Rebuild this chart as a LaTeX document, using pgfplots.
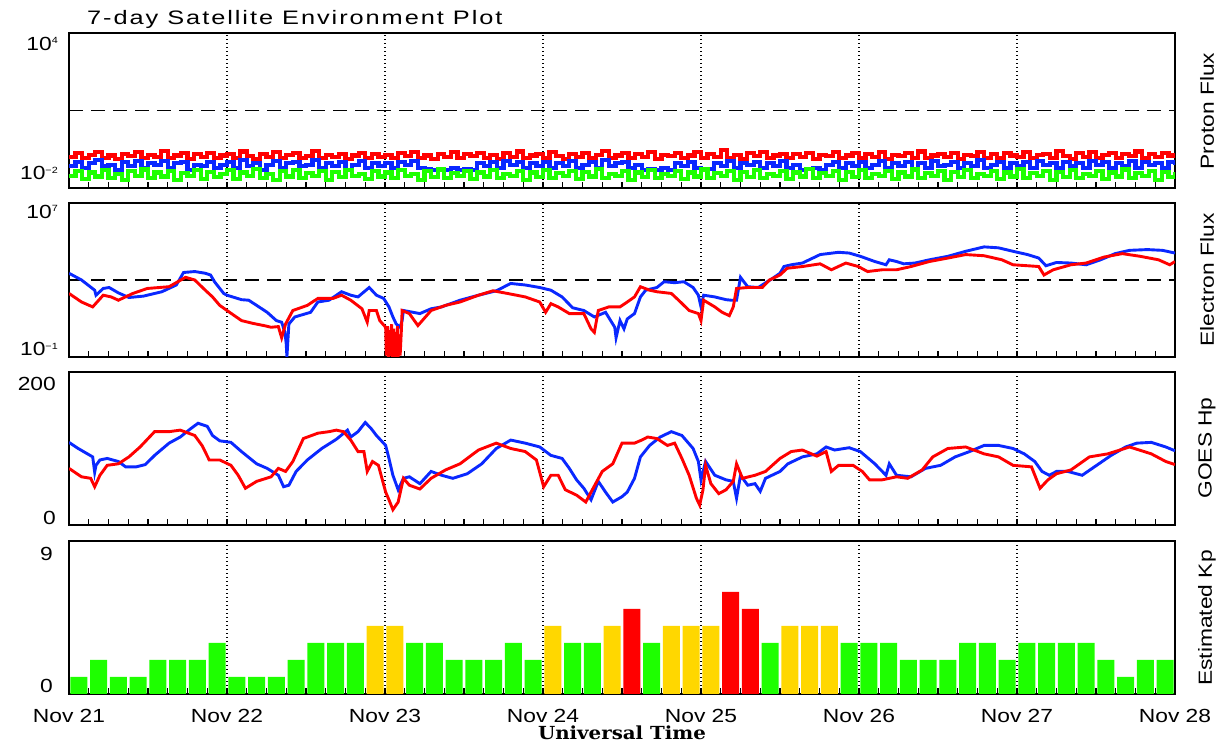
\documentclass[border=0pt]{standalone}
\usepackage{pgfplots}
\pgfplotsset{compat=1.18}
\usepackage{pgfplotstable}
\usepackage{fontspec}
\setmainfont{Liberation Sans}
\newfontfamily\labfont[FakeStretch=1.2]{Liberation Sans}
\newfontfamily\titfont[FakeStretch=1.3,LetterSpace=10]{Liberation Sans}
\newfontfamily\utfont[FakeStretch=1.1]{DejaVu Serif}
\definecolor{pred}{RGB}{255,0,0}
\definecolor{pblue}{RGB}{10,40,255}
\definecolor{pgreen}{RGB}{30,255,0}
\definecolor{kpyellow}{RGB}{255,215,0}
\newcommand{\lab}{\labfont\fontsize{19}{19}\selectfont}
\newcommand{\sups}[1]{\raisebox{6.5pt}{\fontsize{9}{9}\selectfont #1}}

\pgfplotstableread{
h r b g
0 0.16 0.07 0.03
1 0.22 0.10 0.045
2 0.14 0.06 0.022
3 0.19 0.09 0.04
4 0.25 0.12 0.028
5 0.15 0.07 0.05
6 0.18 0.08 0.025
7 0.13 0.05 0.035
8 0.21 0.10 0.02
9 0.17 0.07 0.045
10 0.24 0.11 0.03
11 0.14 0.06 0.052
12 0.19 0.09 0.024
13 0.16 0.08 0.04
14 0.27 0.11 0.028
15 0.15 0.06 0.046
16 0.18 0.09 0.021
17 0.22 0.10 0.038
18 0.13 0.05 0.03
19 0.20 0.08 0.05
20 0.16 0.07 0.023
21 0.23 0.10 0.042
22 0.14 0.06 0.027
23 0.18 0.08 0.035
24 0.21 0.10 0.048
25 0.15 0.06 0.022
26 0.26 0.12 0.04
27 0.17 0.07 0.03
28 0.13 0.09 0.055
29 0.20 0.05 0.025
30 0.16 0.08 0.036
31 0.24 0.11 0.02
32 0.14 0.06 0.044
33 0.19 0.09 0.028
34 0.22 0.10 0.05
35 0.15 0.07 0.024
36 0.17 0.08 0.038
37 0.28 0.12 0.03
38 0.14 0.06 0.046
39 0.19 0.09 0.021
40 0.16 0.07 0.042
41 0.21 0.10 0.026
42 0.13 0.05 0.05
43 0.18 0.08 0.03
44 0.23 0.11 0.035
45 0.15 0.06 0.022
46 0.20 0.09 0.045
47 0.16 0.07 0.028
48 0.19 0.09 0.04
49 0.14 0.06 0.024
50 0.22 0.10 0.05
51 0.17 0.08 0.03
52 0.25 0.11 0.036
53 0.15 0.06 0.021
54 0.18 0.055 0.045
55 0.13 0.05 0.027
56 0.21 0.055 0.052
57 0.16 0.05 0.025
58 0.24 0.06 0.038
59 0.14 0.05 0.03
60 0.20 0.055 0.046
61 0.17 0.05 0.022
62 0.23 0.09 0.04
63 0.15 0.07 0.028
64 0.19 0.10 0.05
65 0.13 0.06 0.024
66 0.22 0.11 0.036
67 0.16 0.08 0.03
68 0.26 0.10 0.044
69 0.14 0.06 0.021
70 0.18 0.09 0.04
71 0.21 0.07 0.027
72 0.15 0.10 0.05
73 0.24 0.06 0.025
74 0.17 0.09 0.038
75 0.13 0.07 0.03
76 0.20 0.11 0.047
77 0.16 0.06 0.022
78 0.22 0.08 0.042
79 0.14 0.10 0.028
80 0.19 0.06 0.055
81 0.27 0.12 0.024
82 0.15 0.07 0.036
83 0.18 0.09 0.03
84 0.23 0.10 0.045
85 0.14 0.06 0.021
86 0.20 0.08 0.04
87 0.16 0.05 0.027
88 0.25 0.055 0.05
89 0.13 0.05 0.025
90 0.19 0.06 0.035
91 0.17 0.05 0.03
92 0.22 0.09 0.046
93 0.15 0.07 0.022
94 0.18 0.10 0.04
95 0.24 0.06 0.028
96 0.14 0.05 0.052
97 0.20 0.055 0.024
98 0.16 0.09 0.038
99 0.29 0.07 0.03
100 0.15 0.11 0.045
101 0.19 0.06 0.021
102 0.13 0.09 0.042
103 0.22 0.08 0.027
104 0.17 0.10 0.05
105 0.24 0.06 0.025
106 0.15 0.09 0.036
107 0.18 0.07 0.03
108 0.21 0.11 0.047
109 0.14 0.06 0.022
110 0.20 0.08 0.04
111 0.16 0.05 0.028
112 0.23 0.055 0.054
113 0.13 0.06 0.024
114 0.19 0.05 0.038
115 0.17 0.08 0.03
116 0.25 0.10 0.045
117 0.15 0.06 0.021
118 0.18 0.09 0.042
119 0.22 0.07 0.027
120 0.14 0.10 0.05
121 0.20 0.06 0.025
122 0.16 0.08 0.036
123 0.24 0.11 0.03
124 0.13 0.06 0.046
125 0.19 0.09 0.022
126 0.17 0.07 0.04
127 0.22 0.10 0.028
128 0.15 0.05 0.052
129 0.26 0.09 0.024
130 0.14 0.06 0.038
131 0.18 0.11 0.03
132 0.21 0.07 0.045
133 0.16 0.08 0.021
134 0.23 0.10 0.042
135 0.13 0.06 0.027
136 0.19 0.09 0.05
137 0.17 0.07 0.025
138 0.24 0.12 0.035
139 0.15 0.06 0.03
140 0.20 0.08 0.047
141 0.14 0.10 0.022
142 0.22 0.06 0.04
143 0.18 0.09 0.028
144 0.16 0.07 0.053
145 0.25 0.10 0.024
146 0.14 0.06 0.038
147 0.19 0.11 0.03
148 0.21 0.08 0.045
149 0.15 0.09 0.021
150 0.27 0.06 0.042
151 0.17 0.10 0.027
152 0.13 0.07 0.05
153 0.22 0.09 0.025
154 0.16 0.06 0.036
155 0.24 0.11 0.03
156 0.15 0.08 0.046
157 0.19 0.10 0.022
158 0.23 0.06 0.04
159 0.14 0.09 0.028
160 0.20 0.07 0.052
161 0.17 0.11 0.024
162 0.26 0.06 0.038
163 0.15 0.10 0.03
164 0.21 0.08 0.045
165 0.16 0.09 0.021
166 0.23 0.06 0.042
167 0.18 0.10 0.027
168 0.20 0.08 0.04
}\proton

\pgfplotsset{
  panel/.style={
    scale only axis, width=1106pt, xmin=0, xmax=168,
    axis line style={line width=1.6pt, black},
    tick align=inside,
    xtick={0,3,...,168}, xticklabels={},
    xtick pos=left,
    ytick=\empty, yticklabels={},
    yminorticks=true,
    major tick length=6pt, minor tick length=12pt,
    every tick/.style={line width=1.3pt, black},
    anchor=south west,
  },
}
\tikzset{
  dayline/.style={black, line width=1.4pt, dash pattern=on 1.4pt off 2.6pt},
  thresh/.style={black, line width=1.5pt, dash pattern=on 14pt off 8pt},
}

\begin{document}
\begin{tikzpicture}
\useasboundingbox (0pt,0pt) rectangle (1221pt,743pt);

% ---------- Proton flux ----------
\begin{axis}[panel, at={(69pt,555pt)}, height=155pt,
  ymode=log, ymin=1e-2, ymax=1e4,
  minor ytick={1e-1,1,10,100,1000}]
  \pgfplotsinvokeforeach{1,...,6}{\draw[dayline] (rel axis cs:#1/7,0) -- (rel axis cs:#1/7,1);}
  \addplot[thresh] coordinates {(0,10) (168,10)};
  \addplot[const plot, pred, line width=4.2pt] table[x=h,y=r] {\proton};
  \addplot[const plot, pblue, line width=4.2pt] table[x=h,y=b] {\proton};
  \addplot[const plot, pgreen, line width=4.2pt] table[x=h,y=g] {\proton};
\end{axis}

% ---------- Electron flux ----------
\begin{axis}[panel, at={(69pt,386pt)}, height=154pt,
  ymode=log, ymin=1e-1, ymax=1e7,
  minor ytick={1,10,100,1000,1e4,1e5,1e6}]
  \pgfplotsinvokeforeach{1,...,6}{\draw[dayline] (rel axis cs:#1/7,0) -- (rel axis cs:#1/7,1);}
  \addplot[thresh] coordinates {(0,1000) (168,1000)};
  \addplot[pblue, line width=2.9pt] coordinates {
(0,2240)(1.9,1000)(3.9,295)(4.1,162)(5.2,363)(6.1,407)(7.5,214)(9.1,123)(11.3,145)(14.1,245)(16.3,550)(17.4,2450)(19.1,2750)(20.7,2240)(21.5,1820)(22.1,813)(23.5,200)(24.0,162)(26.2,95)(27.3,89)(28.5,48)(30.1,21)(31.5,7.8)(32.3,6.4)(32.8,1.9)(33.0,0.47)(33.1,0.1)(33.4,5.2)(34.3,12)(36.7,21)(37.8,72)(39.5,89)(41.4,245)(42.8,162)(43.9,132)(45.6,407)(46.7,162)(47.8,110)(48.6,40)(49.2,12)(49.7,5.2)(50.3,3.5)(50.6,7.8)(50.8,26)(53.3,18)(55.0,32)(56.6,40)(59.4,89)(62.2,162)(64.9,275)(67.1,660)(69.3,550)(71.5,407)(73.2,295)(74.9,132)(76.5,36)(78.2,26)(79.8,12)(81.5,21)(82.9,3.5)(83.1,1.0)(83.7,7.8)(84.3,2.9)(84.8,9.5)(85.9,18)(86.8,132)(87.6,295)(89.3,407)(90.4,813)(92.0,724)(93.4,813)(94.8,407)(95.6,162)(96.0,40)(96.4,162)(98.1,132)(99.8,95)(100.6,89)(101.4,89)(102.0,1380)(102.5,813)(103.1,447)(104.7,407)(106.9,1230)(108.0,2240)(108.6,5000)(109.7,6170)(111.4,7590)(114.1,20900)(116.9,27500)(118.5,25100)(120.2,17000)(122.4,9120)(124.1,6170)(124.6,11200)(125.7,9120)(126.8,6920)(128.5,7590)(130.7,11200)(133.5,17000)(136.2,30900)(139.0,52500)(141.2,46800)(143.4,30900)(145.6,20900)(147.3,13800)(148.4,5500)(150.0,8130)(152.2,7590)(154.5,6170)(156.7,11200)(158.9,23400)(161.1,34700)(163.8,38000)(166.1,34700)(168.0,25100)};
  \addplot[pred, line width=2.9pt] coordinates {
(0,200)(1.9,72)(3.6,40)(5.2,162)(6.4,132)(7.5,89)(9.7,200)(11.9,363)(15.2,447)(17.7,1380)(19.1,1000)(20.7,295)(21.8,132)(22.9,48)(24.0,26)(26.2,7.8)(27.9,5.6)(29.6,4.3)(30.7,3.5)(31.8,3.8)(32.3,1.0)(32.9,5.2)(34.0,26)(36.2,48)(37.8,110)(40.1,110)(41.4,162)(42.8,89)(44.5,32)(45.3,6.5)(45.6,26)(46.7,26)(47.2,7.8)(48.1,3.5)(48.2,0.12)(48.4,4)(48.5,0.1)(48.7,2.5)(48.8,0.11)(49.0,5)(49.1,0.1)(49.3,3)(49.4,0.1)(49.6,2)(49.7,0.1)(49.9,4)(50.0,0.1)(50.2,1.5)(50.3,0.12)(50.5,3)(50.6,26)(51.7,18)(53.0,4.3)(55.0,26)(57.2,48)(59.4,72)(62.2,162)(64.4,275)(66.6,200)(69.3,132)(71.5,72)(72.4,21)(73.2,59)(74.3,40)(76.0,18)(78.2,18)(79.3,2.9)(79.8,1.9)(80.4,26)(82.0,40)(83.7,40)(84.8,72)(85.9,132)(86.8,447)(88.2,295)(89.3,245)(91.5,200)(92.6,89)(94.2,26)(95.6,18)(96.0,7.8)(96.4,89)(98.1,40)(99.2,21)(100.3,14)(100.9,40)(101.4,363)(103.1,407)(105.3,407)(106.4,1000)(108.0,1820)(109.1,4070)(111.4,5000)(114.1,6920)(115.8,3390)(118.0,7590)(119.9,5000)(121.3,2750)(123.5,3390)(125.7,3390)(127.9,5000)(130.7,9120)(133.5,13800)(136.2,20900)(139.0,18200)(141.7,11200)(143.4,6170)(145.6,5500)(147.3,5000)(148.1,1820)(149.5,3390)(152.2,6170)(154.5,7590)(157.2,15500)(160.0,23400)(162.7,17000)(165.5,11200)(167.2,6170)(168.0,9120)};
\end{axis}

% ---------- GOES Hp ----------
\begin{axis}[panel, at={(69pt,218pt)}, height=153pt,
  ymin=0, ymax=200, minor ytick={50,100,150}]
  \pgfplotsinvokeforeach{1,...,6}{\draw[dayline] (rel axis cs:#1/7,0) -- (rel axis cs:#1/7,1);}
  \addplot[pblue, line width=2.9pt] coordinates {
(0,108)(1.4,100)(3.6,89)(3.9,69)(4.1,78)(4.7,85)(5.8,87)(7.5,83)(8.6,76)(10.2,76)(11.6,79)(13.0,91)(15.2,107)(16.9,115)(18.5,126)(19.6,133)(21.0,129)(21.8,117)(22.9,110)(24.6,108)(26.2,96)(28.5,80)(30.1,74)(31.8,65)(32.6,50)(33.4,52)(34.5,70)(36.2,85)(38.4,100)(40.6,112)(42.3,124)(42.8,115)(43.9,122)(45.0,134)(45.9,126)(46.7,117)(48.1,104)(48.6,87)(49.2,65)(50.0,46)(50.8,61)(51.7,63)(53.3,54)(55.0,70)(56.6,65)(58.3,61)(60.5,67)(62.7,80)(64.9,100)(67.1,111)(69.3,107)(71.5,102)(73.2,91)(74.9,87)(76.0,74)(77.1,59)(78.2,48)(79.3,33)(80.4,57)(81.5,43)(82.6,30)(84.0,37)(84.8,43)(85.9,61)(86.8,89)(88.2,104)(89.8,115)(91.5,122)(93.1,117)(94.8,100)(95.6,83)(96.0,59)(96.7,83)(98.1,65)(99.8,59)(100.9,57)(101.4,35)(102.0,65)(103.1,52)(104.2,54)(105.0,44)(105.8,61)(108.0,70)(109.2,80)(111.4,89)(113.6,93)(115.0,102)(116.3,98)(118.5,101)(120.2,96)(122.4,80)(124.1,65)(124.6,80)(125.7,65)(127.9,63)(130.1,74)(132.4,78)(134.6,89)(136.8,96)(139.0,104)(141.2,104)(143.4,100)(145.1,93)(146.7,83)(147.8,70)(148.9,65)(150.0,70)(151.7,70)(153.9,65)(156.1,78)(158.3,91)(160.5,102)(162.2,107)(164.4,108)(166.6,102)(168.0,97)};
  \addplot[pred, line width=2.9pt] coordinates {
(0,74)(1.9,63)(3.3,61)(3.9,50)(4.7,65)(5.8,78)(7.5,80)(9.1,89)(10.8,102)(13.0,122)(15.2,122)(16.9,124)(19.1,117)(20.2,104)(21.3,85)(22.9,85)(24.6,78)(25.7,65)(26.8,48)(28.5,57)(30.7,63)(31.8,74)(32.9,70)(34.0,83)(35.6,113)(37.8,120)(39.5,122)(40.6,124)(41.7,122)(42.8,111)(43.9,96)(44.8,96)(45.3,70)(46.1,83)(47.0,78)(48.1,43)(48.6,33)(49.2,20)(50.0,30)(50.8,61)(51.7,52)(53.3,47)(55.0,61)(57.2,72)(59.4,80)(62.2,98)(64.9,107)(67.1,100)(69.3,96)(71.0,85)(72.1,50)(73.2,65)(74.3,65)(75.4,46)(77.1,39)(78.5,30)(79.3,43)(81.0,70)(82.6,80)(84.0,107)(85.9,107)(87.0,111)(87.9,115)(89.3,113)(90.9,104)(92.0,107)(93.1,87)(94.2,65)(95.3,35)(95.8,26)(96.3,46)(96.7,78)(97.5,54)(98.7,41)(99.8,46)(100.9,57)(101.4,80)(102.3,61)(104.2,65)(105.8,70)(108.0,87)(109.7,96)(111.4,98)(113.6,90)(115.0,96)(115.8,70)(116.9,78)(119.1,78)(120.5,70)(121.6,59)(123.5,59)(125.7,63)(127.4,61)(129.6,72)(131.2,89)(133.5,100)(136.2,102)(139.0,93)(141.2,89)(143.4,78)(146.2,76)(147.5,48)(148.7,59)(150.0,67)(152.2,72)(155.0,89)(157.8,93)(161.1,102)(164.4,93)(166.6,83)(168.0,79)};
\end{axis}

% ---------- Estimated Kp ----------
\begin{axis}[panel, at={(69pt,49pt)}, height=153pt,
  ymin=0, ymax=9, minor ytick={1,...,8}]
  \pgfplotsinvokeforeach{1,...,6}{\draw[dayline] (rel axis cs:#1/7,0) -- (rel axis cs:#1/7,1);}
  \addplot[ybar, bar width=2.6, bar shift=0pt, fill=pgreen, draw=none] coordinates {
(1.5,1)(4.5,2)(7.5,1)(10.5,1)(13.5,2)(16.5,2)(19.5,2)(22.5,3)
(25.5,1)(28.5,1)(31.5,1)(34.5,2)(37.5,3)(40.5,3)(43.5,3)
(52.5,3)(55.5,3)(58.5,2)(61.5,2)(64.5,2)(67.5,3)(70.5,2)
(76.5,3)(79.5,3)(88.5,3)(106.5,3)(118.5,3)
(121.5,3)(124.5,3)(127.5,2)(130.5,2)(133.5,2)(136.5,3)(139.5,3)(142.5,2)
(145.5,3)(148.5,3)(151.5,3)(154.5,3)(157.5,2)(160.5,1)(163.5,2)(166.5,2)};
  \addplot[ybar, bar width=2.6, bar shift=0pt, fill=kpyellow, draw=none] coordinates {
(46.5,4)(49.5,4)(73.5,4)(82.5,4)(91.5,4)(94.5,4)(97.5,4)(109.5,4)(112.5,4)(115.5,4)};
  \addplot[ybar, bar width=2.6, bar shift=0pt, fill=pred, draw=none] coordinates {
(85.5,5)(100.5,6)(103.5,5)};
\end{axis}

% ---------- Texts ----------
\node[anchor=base west, inner sep=0pt] at (87pt,718pt) {\titfont\fontsize{19.5}{20}\selectfont 7-day Satellite Environment Plot};

\node[anchor=north east, inner sep=0pt] at (58pt,706pt) {\lab 10\sups{4}};
\node[anchor=base east, inner sep=0pt] at (58pt,563pt) {\lab 10\sups{−2}};
\node[anchor=north east, inner sep=0pt] at (58pt,538pt) {\lab 10\sups{7}};
\node[anchor=base east, inner sep=0pt] at (58pt,387pt) {\lab 10\sups{−1}};
\node[anchor=north east, inner sep=0pt] at (56pt,366pt) {\lab 200};
\node[anchor=base east, inner sep=0pt] at (56pt,218pt) {\lab 0};
\node[anchor=north east, inner sep=0pt] at (53pt,196pt) {\lab 9};
\node[anchor=base east, inner sep=0pt] at (53pt,50pt) {\lab 0};

\node[rotate=90, inner sep=0pt] at (1207pt,632pt) {\lab Proton Flux};
\node[rotate=90, inner sep=0pt] at (1207pt,463pt) {\lab Electron Flux};
\node[rotate=90, inner sep=0pt] at (1207pt,295pt) {\lab GOES Hp};
\node[rotate=90, inner sep=0pt] at (1207pt,125pt) {\lab Estimated Kp};

\foreach \d [count=\i from 0] in {21,22,23,24,25,26,27,28}
  \node[anchor=base, inner sep=0pt] at ({(69+158*\i)*1pt},20pt) {\lab Nov \d};

\node[anchor=base, inner sep=0pt] at (622pt,3pt) {\utfont\bfseries\fontsize{18}{18}\selectfont Universal Time};
\end{tikzpicture}
\end{document}
